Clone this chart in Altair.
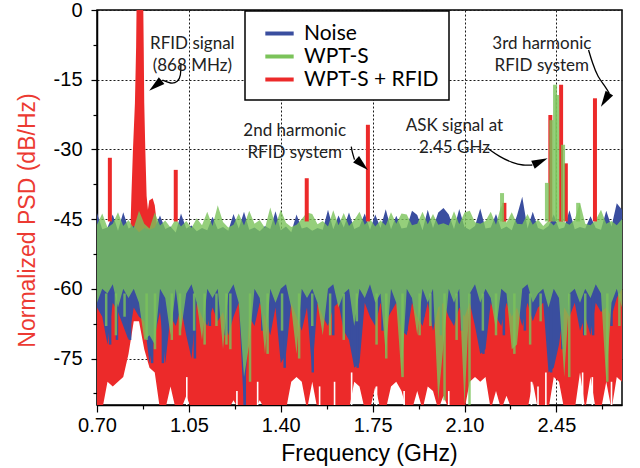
import altair as alt
import pandas as pd

# ---------------- data ----------------
FREQ_START = 0.70
FREQ_STEP = 0.02
FREQ = [round(FREQ_START + FREQ_STEP * i, 2) for i in range(101)]

SERIES = ["Noise", "WPT-S", "WPT-S + RFID"]
COLORS = ["#3A4E9F", "#7BC35A", "#EC2A2A"]

NOISE_TOP = [
    -43.7, -47.2, -46.8, -44.0, -47.5, -43.5, -47.0, -46.5, -47.8, -46.9,
    -47.3, -46.8, -44.2, -47.1, -46.6, -47.9, -43.8, -47.0, -46.4, -47.6,
    -46.9, -47.4, -44.5, -47.2, -46.7, -47.5, -43.9, -47.0, -43.4, -47.3,
    -46.8, -47.6, -46.5, -47.1, -43.3, -47.4, -46.6, -47.8, -44.0, -47.0,
    -46.7, -47.5, -46.9, -47.3, -43.0, -47.2, -44.2, -46.8, -43.6, -47.1,
    -46.6, -43.8, -47.3, -44.0, -46.9, -42.9, -47.2, -44.3, -47.0, -46.8,
    -43.2, -44.1, -47.4, -43.0, -46.9, -43.6, -42.6, -44.0, -47.1, -42.8,
    -46.7, -47.3, -46.5, -42.7, -47.0, -46.8, -43.9, -47.2, -46.6, -47.4,
    -44.2, -40.2, -47.0, -43.4, -46.9, -47.3, -46.5, -44.0, -47.1, -46.8,
    -43.1, -47.2, -46.7, -47.0, -44.4, -46.9, -47.3, -43.2, -46.6, -41.6,
    -43.0,
]
NOISE_BOTTOM = [
    -64, -66, -72, -63, -65, -68, -71, -64, -66, -67,
    -76, -70, -65, -76, -66, -68, -64, -70, -75, -63,
    -66, -68, -64, -67, -65, -70, -66, -63, -86, -66,
    -68, -63, -66, -70, -64, -76, -74, -63, -66, -69,
    -64, -78, -63, -66, -68, -64, -63, -69, -71, -77,
    -76, -63, -66, -68, -63, -67, -65, -63, -69, -70,
    -63, -66, -68, -63, -69, -64, -63, -66, -68, -64,
    -66, -63, -68, -74, -73, -63, -66, -68, -63, -66,
    -64, -68, -63, -67, -64, -63, -78, -77, -72, -64,
    -66, -63, -69, -66, -70, -63, -65, -64, -66, -62,
    -60,
]
WPT_TOP = [
    -46.2, -43.8, -46.8, -46.0, -43.5, -46.5, -45.2, -46.9, -43.2, -46.0,
    -47.0, -43.6, -46.4, -45.3, -46.8, -45.0, -46.6, -45.4, -46.9, -44.8,
    -46.3, -43.4, -46.5, -42.0, -45.6, -46.8, -46.2, -43.8, -46.4, -43.2,
    -46.0, -45.2, -46.9, -42.5, -46.4, -43.0, -45.8, -46.7, -46.2, -45.0,
    -43.6, -43.9, -46.1, -45.4, -46.6, -43.1, -46.3, -43.7, -46.5, -45.2,
    -43.4, -46.2, -45.0, -46.6, -45.3, -46.4, -43.5, -46.0, -43.8, -44.0,
    -46.3, -46.0, -43.4, -46.1, -43.9, -46.2, -45.9, -46.4, -43.3, -46.1,
    -43.6, -43.2, -45.7, -46.0, -45.4, -43.4, -46.2, -42.0, -45.8, -43.5,
    -46.0, -46.1, -43.9, -46.2, -45.1, -46.5, -45.3, -46.4, -45.0, -45.6,
    -46.2, -45.1, -41.5, -46.0, -46.3, -45.2, -43.0, -46.0, -45.4, -46.3,
    -45.0,
]
WPT_BOTTOM = [
    -63, -60, -61, -59, -64, -60, -62, -60, -63, -71,
    -70, -72, -60, -62, -70, -60, -69, -61, -59, -63,
    -71, -60, -62, -60, -73, -61, -59, -63, -79, -72,
    -60, -62, -74, -60, -63, -60, -59, -64, -74, -60,
    -62, -60, -63, -70, -60, -59, -64, -61, -60, -68,
    -60, -62, -59, -63, -61, -74, -60, -63, -79, -60,
    -62, -70, -60, -63, -60, -84, -72, -60, -63, -60,
    -85, -61, -59, -63, -60, -62, -69, -60, -61, -73,
    -72, -60, -59, -63, -61, -60, -64, -60, -62, -79,
    -61, -60, -63, -60, -62, -59, -61, -80, -63, -60,
    -64,
]
RFID_TOP_LEVEL = -50
RFID_BOTTOM = [
    -86, -86, -80, -81, -80, -79, -74, -67, -67, -73,
    -77, -78, -86, -86, -81, -86, -86, -83, -86, -86,
    -86, -86, -86, -86, -86, -86, -84, -86, -86, -86,
    -86, -84, -86, -86, -86, -86, -86, -80, -79, -80,
    -86, -80, -86, -86, -86, -86, -86, -86, -86, -80,
    -81, -86, -86, -81, -86, -86, -81, -80, -82, -86,
    -86, -82, -86, -81, -82, -86, -83, -86, -86, -86,
    -86, -80, -79, -80, -79, -86, -82, -86, -83, -86,
    -86, -86, -86, -80, -86, -86, -86, -79, -80, -86,
    -86, -86, -78, -86, -79, -86, -86, -80, -86, -79,
    -80,
]

# narrow downward streaks of the noise floor (lowest dB reached)
BLUE_STREAK_F = [0.75, 0.776, 0.826, 0.91, 0.951, 1.073, 1.13, 1.19, 1.263, 1.33,
                 1.415, 1.522, 1.60, 1.67, 1.693, 1.788, 1.879, 1.944, 2.01, 2.09,
                 2.172, 2.25, 2.33, 2.43, 2.473, 2.556, 2.59, 2.66]
BLUE_STREAK_DB = [-72, -71, -71, -76, -76, -75, -68, -70, -85, -69,
                  -77, -78, -70, -71, -77, -69, -69, -66, -70, -69,
                  -74, -70, -69, -78, -73, -70, -70, -68]
GREEN_STREAK_F = [0.735, 0.772, 0.805, 0.889, 0.921, 0.985, 1.016, 1.07, 1.11, 1.155,
                  1.193, 1.208, 1.283, 1.35, 1.405, 1.47, 1.52, 1.588, 1.64, 1.69,
                  1.765, 1.802, 1.864, 1.929, 1.97, 2.024, 2.07, 2.119, 2.17, 2.22,
                  2.29, 2.35, 2.39, 2.499, 2.56, 2.644, 2.69]
GREEN_STREAK_DB = [-68, -70, -66, -71, -73, -71, -70, -69, -72, -68,
                   -72, -73, -80, -74, -69, -75, -68, -70, -71, -67,
                   -72, -75, -79, -70, -68, -84, -71, -85, -69, -70,
                   -74, -72, -67, -79, -70, -80, -68]
STREAK_TOP = -61
# thin gaps at the bottom of the WPT-S + RFID trace (highest dB of each gap)
GAP_F = [1.042, 1.233, 1.312, 1.548, 1.605, 1.67, 1.765, 1.87, 2.04,
         2.355, 2.38, 2.41, 2.55, 2.587, 2.66]
GAP_DB = [-79, -82, -80, -81, -80, -78, -81, -82, -82,
          -80, -81, -78, -78, -79, -80]
GAP_FLOOR = -86

# RFID carrier at 868 MHz (outline of the red peak)
RFID_PEAK_F = [0.826, 0.831, 0.837, 0.8445, 0.849, 0.851, 0.876, 0.878, 0.880,
               0.884, 0.889, 0.894, 0.899, 0.912, 0.920, 0.928, 0.935]
RFID_PEAK_DB = [-50, -40, -30, -20, -8, 2, 2, -8, -20,
                -30, -40, -43, -41, -40.5, -42, -46, -50]
RFID_PEAK_FLOOR = -56

# isolated spectral lines
RED_SPIKE_F = [0.749, 1.000, 1.499, 1.732, 2.252, 2.427, 2.468, 2.486, 2.597]
RED_SPIKE_DB = [-31.8, -34.4, -36.2, -24.7, -41.5, -22.6, -16.1, -33.0, -19.0]
GREEN_SPIKE_F = [2.243, 2.414, 2.431, 2.445, 2.4535, 2.4755, 2.533]
GREEN_SPIKE_DB = [-39.4, -37.2, -23.7, -16.1, -18.3, -29.0, -41.5]
SPIKE_BASE = -45.5

# annotations
NOTE_TEXT = ["RFID signal\n(868 MHz)", "2nd harmonic\nRFID system",
             "ASK signal at\n2.45 GHz", "3rd harmonic\nRFID system"]
NOTE_F = [1.0633, 1.4531, 2.0617, 2.3946]
NOTE_DB = [-7.32, -26.04, -24.96, -7.32]

ARROW_PATHS = [
    ([1.0195, 1.0195, 1.0081, 0.9815, 0.9491], [-11.4, -14.2, -15.49, -15.92, -15.06]),
    ([1.6688, 1.6719, 1.6810], [-29.42, -30.56, -32.19]),
    ([2.1884, 2.2329, 2.2835, 2.3242, 2.3584], [-29.76, -31.57, -32.92, -33.46, -33.35]),
    ([2.5726, 2.5878, 2.6068, 2.6387, 2.6513], [-8.61, -11.47, -14.35, -16.63, -17.93]),
]
ARROW_TIP_F = [0.8989, 1.7320, 2.4167, 2.6197]
ARROW_TIP_DB = [-17.37, -34.43, -31.91, -20.81]
ARROW_TIP_ANGLE = [230.9, 132.4, 66.4, 211.8]

X_TICKS = [0.70, 0.875, 1.05, 1.225, 1.40, 1.575, 1.75, 1.925, 2.10, 2.275, 2.45, 2.625]
Y_TICKS = [0, -7.5, -15, -22.5, -30, -37.5, -45, -52.5, -60, -67.5, -75, -82.5]

# ---------------- styling ----------------
AXIS_FONT = "Liberation Sans"
NOTE_FONT = "Lato"
XT = "round(datum.value * 100) % 35 == 0"
YT = "datum.value % 15 == 0"

X_SCALE = alt.Scale(domain=[0.70, 2.70], nice=False, zero=False)
Y_SCALE = alt.Scale(domain=[-85, 0], nice=False, zero=False)

X_AXIS = alt.Axis(
    values=X_TICKS, labelExpr=f"{XT} ? format(datum.value, '.2f') : ''",
    labelFlush=False, labelOverlap=False,
    labelFont=AXIS_FONT, labelFontSize=20, labelColor="black", labelPadding=3,
    tickColor="black", tickWidth=1.2,
    tickSize={"condition": {"test": XT, "value": 7}, "value": 4},
    domainColor="black", domainWidth=1.5,
    grid=True, gridColor="#1a1a1a", gridDash=[2, 2], gridWidth=1,
    gridOpacity={"condition": {"test": XT, "value": 1}, "value": 0},
    title="Frequency (GHz)", titleFont=AXIS_FONT, titleFontSize=23,
    titleFontWeight="normal", titleColor="black",
    titleX=272, titleY=55, titleAlign="center", titleBaseline="alphabetic",
)
Y_AXIS = alt.Axis(
    values=Y_TICKS, labelExpr=f"{YT} ? '' + datum.value : ''",
    labelFlush=False, labelOverlap=False,
    labelFont=AXIS_FONT, labelFontSize=20, labelColor="black", labelPadding=9,
    tickColor="black", tickWidth=1.2,
    tickSize={"condition": {"test": YT, "value": 6}, "value": 4},
    domainColor="black", domainWidth=1.5,
    grid=True, gridColor="#1a1a1a", gridDash=[2, 2], gridWidth=1,
    gridOpacity={"condition": {"test": YT, "value": 1}, "value": 0},
    title="Normalized PSD (dB/Hz)", titleFont=AXIS_FONT, titleFontSize=23,
    titleFontWeight="normal", titleColor="#EC3A32", titleAngle=270,
    titleX=-70, titleY=210, titleAlign="center", titleBaseline="middle",
)


def X(field="f"):
    return alt.X(f"{field}:Q", scale=X_SCALE, axis=X_AXIS)


def Y(field):
    return alt.Y(f"{field}:Q", scale=Y_SCALE, axis=Y_AXIS)


def band(top, bottom, color, opacity):
    df = pd.DataFrame({"f": FREQ, "top": top, "bot": bottom})
    return alt.Chart(df).mark_area(
        interpolate="linear", color=color, opacity=opacity, clip=True
    ).encode(x=X(), y=Y("top"), y2="bot:Q")


def streaks(freqs, ends, start, color, opacity, width):
    df = pd.DataFrame({"f": freqs, "end": ends, "start": [start] * len(freqs)})
    return alt.Chart(df).mark_rule(
        color=color, opacity=opacity, strokeWidth=width, clip=True
    ).encode(x=X(), y=Y("start"), y2="end:Q")


red_area = band([RFID_TOP_LEVEL] * len(FREQ), RFID_BOTTOM, COLORS[2], 1.0)
blue_area = band(NOISE_TOP, NOISE_BOTTOM, COLORS[0], 1.0)
green_area = band(WPT_TOP, WPT_BOTTOM, COLORS[1], 0.8)

gaps = streaks(GAP_F, GAP_DB, GAP_FLOOR, "white", 1.0, 1.6)
blue_streaks = streaks(BLUE_STREAK_F, BLUE_STREAK_DB, STREAK_TOP, COLORS[0], 1.0, 2.5)
green_streaks = streaks(GREEN_STREAK_F, GREEN_STREAK_DB, STREAK_TOP, COLORS[1], 0.8, 2.5)

peak_df = pd.DataFrame({"f": RFID_PEAK_F, "top": RFID_PEAK_DB})
red_peak = alt.Chart(peak_df).mark_area(color=COLORS[2], clip=True).encode(
    x=X(), y=Y("top"), y2=alt.datum(RFID_PEAK_FLOOR)
)

spike_df = pd.DataFrame({
    "f": RED_SPIKE_F + GREEN_SPIKE_F,
    "top": RED_SPIKE_DB + GREEN_SPIKE_DB,
    "base": [SPIKE_BASE] * (len(RED_SPIKE_F) + len(GREEN_SPIKE_F)),
    "series": [SERIES[2]] * len(RED_SPIKE_F) + [SERIES[1]] * len(GREEN_SPIKE_F),
    "op": [1.0] * len(RED_SPIKE_F) + [0.8] * len(GREEN_SPIKE_F),
})
spikes = alt.Chart(spike_df).mark_rule(strokeWidth=4, clip=True).encode(
    x=X(), y=Y("top"), y2="base:Q",
    color=alt.Color(
        "series:N",
        scale=alt.Scale(domain=SERIES, range=COLORS),
        legend=alt.Legend(
            title=None, orient="none", legendX=148, legendY=1, direction="vertical",
            fillColor="white", strokeColor="black", padding=10,
            symbolType="M-1.35,0H1.35", symbolSize=441, symbolStrokeWidth=4,
            symbolOffset=12, symbolOpacity=1, labelOffset=12,
            labelFont=NOTE_FONT, labelFontSize=21, labelColor="black",
            rowPadding=0,
        ),
    ),
    opacity=alt.Opacity("op:Q", scale=None, legend=None),
)

arrow_rows = []
for a, (fs, dbs) in enumerate(ARROW_PATHS):
    for k, (fv, dv) in enumerate(zip(fs, dbs)):
        arrow_rows.append({"arrow": a, "k": k, "f": fv, "db": dv})
arrow_df = pd.DataFrame(arrow_rows)
arrow_lines = alt.Chart(arrow_df).mark_line(
    interpolate="basis", color="black", strokeWidth=1.3
).encode(x=X(), y=Y("db"), detail="arrow:N", order="k:Q")

tip_df = pd.DataFrame({"f": ARROW_TIP_F, "db": ARROW_TIP_DB, "ang": ARROW_TIP_ANGLE})
arrow_heads = alt.Chart(tip_df).mark_point(
    shape="M0,0L0.55,2L-0.55,2Z", filled=True, size=256, color="black", opacity=1
).encode(x=X(), y=Y("db"), angle=alt.Angle("ang:Q", scale=None))

note_df = pd.DataFrame({"f": NOTE_F, "db": NOTE_DB, "label": NOTE_TEXT})
notes = alt.Chart(note_df).mark_text(
    font=NOTE_FONT, fontSize=17, color="#222", align="center", baseline="middle",
    lineBreak="\n", lineHeight=22,
).encode(x=X(), y=Y("db"), text="label:N")

chart = alt.layer(
    red_area, red_peak, gaps, blue_area, blue_streaks, green_streaks, green_area,
    spikes, arrow_lines, arrow_heads, notes
).properties(
    width=525, height=395,
    autosize=alt.AutoSizeParams(type="none"),
    padding={"left": 97, "top": 10, "right": 18, "bottom": 63},
    background="white",
).configure_view(stroke="black", strokeWidth=1.5).configure_legend(strokeWidth=1.5)

chart.save("out.html", embed_options={"renderer": "svg", "actions": False})
